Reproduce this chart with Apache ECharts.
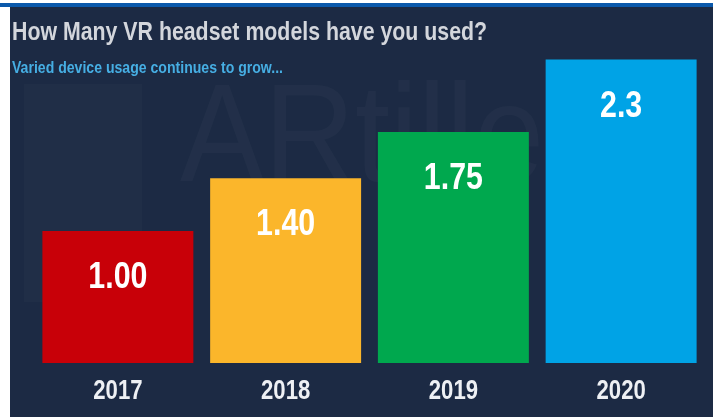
<!DOCTYPE html>
<html>
<head>
<meta charset="utf-8">
<style>
  html, body { margin: 0; padding: 0; background: #ffffff; }
  #chart { width: 713px; height: 417px; }
</style>
<script src="https://cdn.jsdelivr.net/npm/echarts@6/dist/echarts.min.js"></script>
</head>
<body>
<div id="chart"></div>
<script>
// Survey years and average number of VR headset models used
const years = ['2017', '2018', '2019', '2020'];
const modelsUsed = [1.00, 1.40, 1.75, 2.3];
const valueLabels = ['1.00', '1.40', '1.75', '2.3'];
const barColors = ['#c80008', '#fbb62b', '#00a84e', '#00a3e6'];

const titleText = 'How Many VR headset models have you used?';
const subtitleText = 'Varied device usage continues to grow...';

const FONT = '"Liberation Sans", Arial, sans-serif';
const BG = '#1c2a44';
// condensed look for the bold display type
const NARROW = 0.82;

const chart = echarts.init(document.getElementById('chart'), null, { renderer: 'canvas' });

const points = years.map((y, i) => [i, modelsUsed[i]]);

chart.setOption({
  backgroundColor: BG,
  animation: false,
  grid: { left: 34, right: 8, top: 33, bottom: 54, containLabel: false },
  xAxis: {
    type: 'category',
    data: years,
    axisLine: { show: false },
    axisTick: { show: false },
    axisLabel: { show: false }
  },
  yAxis: {
    type: 'value',
    min: 0,
    max: 2.5,
    show: false,
    splitLine: { show: false }
  },
  graphic: [
    // faint brand mark behind the bars
    {
      type: 'rect', z: -10, silent: true,
      shape: { x: 24, y: 84, width: 118, height: 218 },
      style: { fill: 'rgba(255,255,255,0.02)' }
    },
    {
      type: 'text', z: -10, silent: true,
      x: 180, y: 72, scaleX: 0.9,
      style: {
        text: 'ARtillery',
        fill: 'rgba(255,255,255,0.026)',
        font: '140px ' + FONT
      }
    },
    // page frame strips
    { type: 'rect', silent: true, shape: { x: 0, y: 0, width: 713, height: 3 }, style: { fill: '#ffffff' } },
    { type: 'rect', silent: true, shape: { x: 0, y: 3, width: 713, height: 4 }, style: { fill: '#0b59ab' } },
    { type: 'rect', silent: true, shape: { x: 0, y: 7, width: 10, height: 410 }, style: { fill: '#ffffff' } },
    // headings
    {
      type: 'text', silent: true,
      x: 12, y: 20, scaleX: NARROW,
      style: {
        text: titleText,
        fill: '#d3d6dc',
        font: 'bold 26px ' + FONT
      }
    },
    {
      type: 'text', silent: true,
      x: 12, y: 61, scaleX: 0.88,
      style: {
        text: subtitleText,
        fill: '#46aee3',
        font: 'bold 16px ' + FONT
      }
    }
  ],
  series: [
    {
      type: 'bar',
      barCategoryGap: '10%',
      data: modelsUsed.map((v, i) => ({
        value: v,
        itemStyle: { color: barColors[i] }
      }))
    },
    {
      // value labels inside the top of each bar
      type: 'custom',
      data: points,
      z: 5,
      renderItem: function (params, api) {
        const p = api.coord([api.value(0), api.value(1)]);
        return {
          type: 'text',
          x: p[0], y: p[1] + 47, scaleX: NARROW,
          style: {
            text: valueLabels[params.dataIndex],
            fill: '#ffffff',
            font: 'bold 37px ' + FONT,
            align: 'center',
            verticalAlign: 'middle'
          }
        };
      }
    },
    {
      // year labels under each bar
      type: 'custom',
      data: points,
      z: 5,
      renderItem: function (params, api) {
        const p = api.coord([api.value(0), 0]);
        return {
          type: 'text',
          x: p[0], y: p[1] + 29, scaleX: NARROW,
          style: {
            text: years[params.dataIndex],
            fill: '#eef0f4',
            font: 'bold 27px ' + FONT,
            align: 'center',
            verticalAlign: 'middle'
          }
        };
      }
    }
  ]
});
</script>
</body>
</html>
